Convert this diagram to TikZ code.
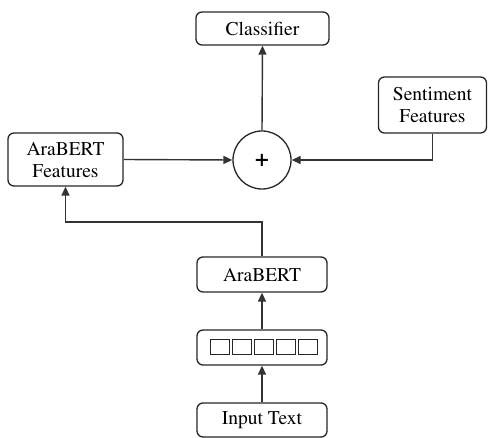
\documentclass[tikz,border=0pt]{standalone}
\usepackage[T1]{fontenc}
\usepackage{times}
\usetikzlibrary{arrows.meta}
\begin{document}
\begin{tikzpicture}[x=1pt,y=-1pt,
  box/.style={draw=black!85,line width=1.3pt,rounded corners=6pt,align=center,inner sep=0pt,
    font=\rmfamily\fontsize{19.5}{22}\selectfont},
  sq/.style={draw=black!85,line width=1pt,minimum width=19pt,minimum height=15pt,inner sep=0pt},
  conn/.style={draw=black!80,line width=1.4pt},
  arr/.style={conn,-{Triangle[length=9pt,width=8pt]}}]
\useasboundingbox (0,0) rectangle (488,438);
\node[box,minimum width=133pt,minimum height=33pt] (cls) at (262.5,28.5) {Classifier};
\node[draw=black!85,line width=1.3pt,circle,minimum size=58pt,inner sep=0pt,font=\rmfamily\fontsize{24}{24}\selectfont\bfseries] (plus) at (262,160) {+};
\node[box,minimum width=115pt,minimum height=53pt] (feat) at (65.5,159.5) {AraBERT\\Features};
\node[box,minimum width=108pt,minimum height=56pt] (sent) at (432.5,105) {Sentiment\\Features};
\node[box,minimum width=130pt,minimum height=35pt] (ab) at (262,274.5) {AraBERT};
\node[box,minimum width=130pt,minimum height=35pt] (emb) at (262,347.5) {};
\node[box,minimum width=130pt,minimum height=34pt] (inp) at (262,420) {Input Text};
\foreach \i/\x in {1/220,2/242,3/264,4/286,5/308}
  \node[sq] (s\i) at (\x,347.5) {};
\coordinate (sentcorner) at (sent.south |- plus.east);
\coordinate (up1) at (262,222);
\coordinate (up2) at (feat.south |- up1);
\draw[arr] (inp) -- (emb);
\draw[arr] (emb) -- (ab);
\draw[arr] (ab.north) -- (up1) -- (up2) -- (feat.south);
\draw[arr] (feat.east) -- (plus.west);
\draw[arr] (sent.south) -- (sentcorner) -- (plus.east);
\draw[arr] (plus.north) -- (cls.south);
\end{tikzpicture}
\end{document}
